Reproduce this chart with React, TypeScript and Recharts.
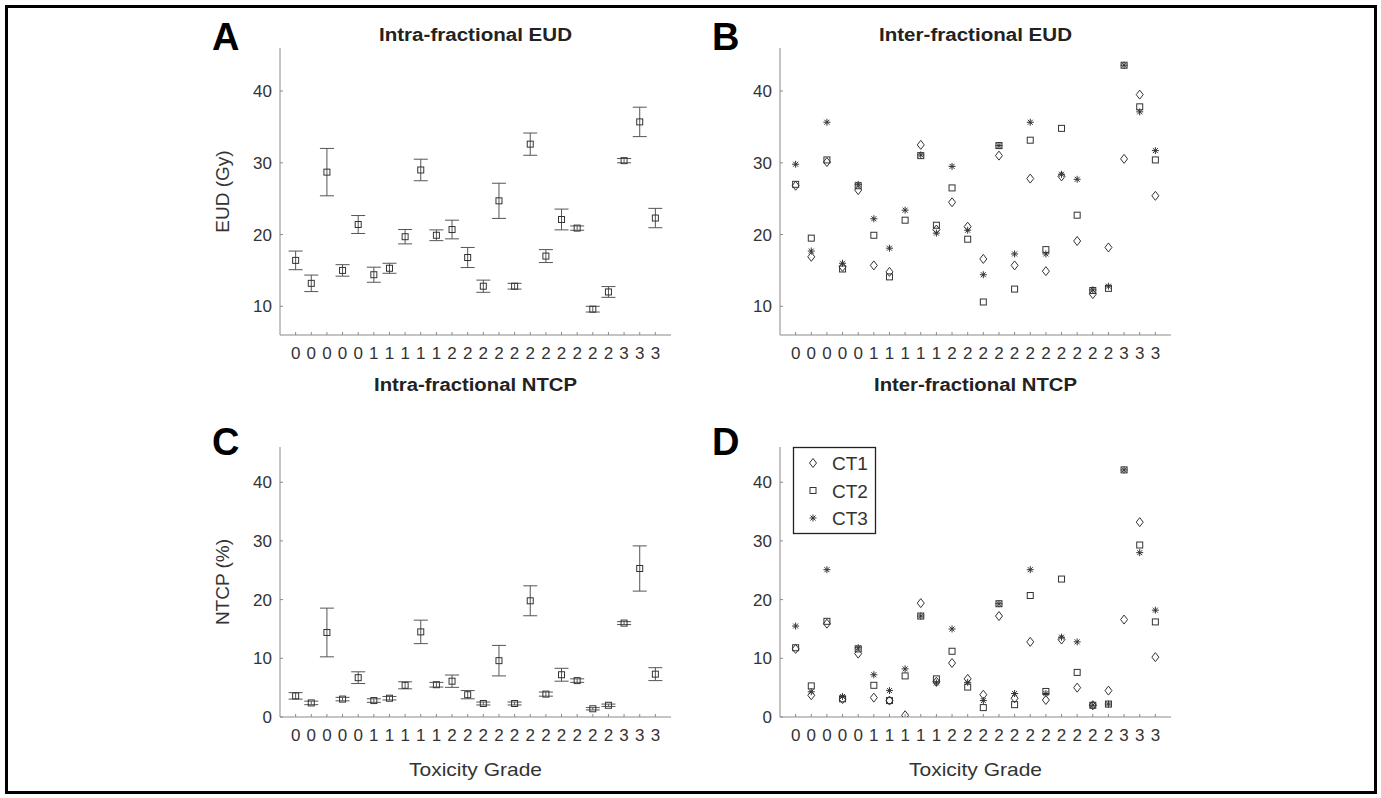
import { ScatterChart, Scatter, XAxis, YAxis, ErrorBar } from 'recharts'
import type { ReactNode } from 'react'

// toxicity grade of each of the 24 patients (x tick labels)
const GRADES = ['0', '0', '0', '0', '0', '1', '1', '1', '1', '1', '2', '2', '2', '2', '2', '2', '2', '2', '2', '2', '2', '3', '3', '3']
const PATIENTS = GRADES.map((_, i) => i + 1)

// A: intra-fractional EUD (Gy), mean and error
const INTRA_EUD_MEAN = [16.4, 13.2, 28.7, 15.0, 21.4, 14.4, 15.3, 19.7, 29.0, 19.9, 20.7, 16.8, 12.8, 24.7, 12.8, 32.6, 17.0, 22.1, 20.9, 9.6, 12.0, 30.3, 35.7, 22.3]
const INTRA_EUD_ERR = [1.3, 1.15, 3.3, 0.8, 1.25, 1.05, 0.7, 1.0, 1.5, 0.75, 1.3, 1.4, 0.85, 2.45, 0.4, 1.55, 0.9, 1.45, 0.3, 0.4, 0.75, 0.3, 2.05, 1.35]

// B: inter-fractional EUD (Gy) per CT
const INTER_EUD_CT1 = [26.8, 16.9, 30.1, 15.5, 26.2, 15.7, 14.8, null, 32.5, 20.7, 24.5, 21.1, 16.6, 31.0, 15.7, 27.8, 14.9, 28.1, 19.1, 11.7, 18.2, 30.55, 39.5, 25.4]
const INTER_EUD_CT2 = [27.0, 19.5, 30.4, 15.2, 26.8, 19.9, 14.1, 22.0, 31.0, 21.3, 26.5, 19.35, 10.6, 32.4, 12.4, 33.15, 17.9, 34.8, 22.7, 12.2, 12.5, 43.6, 37.8, 30.4]
const INTER_EUD_CT3 = [29.8, 17.7, 35.65, 16.0, 27.0, 22.2, 18.1, 23.4, 31.1, 20.2, 29.5, 20.6, 14.4, 32.4, 17.3, 35.65, 17.3, 28.4, 27.7, 12.3, 12.8, 43.6, 37.1, 31.7]

// C: intra-fractional NTCP (%), mean and error
const INTRA_NTCP_MEAN = [3.6, 2.4, 14.4, 3.05, 6.7, 2.8, 3.2, 5.4, 14.5, 5.5, 6.1, 3.8, 2.3, 9.6, 2.3, 19.8, 3.9, 7.2, 6.2, 1.4, 2.0, 16.0, 25.3, 7.3]
const INTRA_NTCP_ERR = [0.55, 0.3, 4.15, 0.3, 1.0, 0.3, 0.3, 0.6, 2.0, 0.4, 1.05, 0.7, 0.25, 2.6, 0.25, 2.55, 0.35, 1.1, 0.3, 0.2, 0.2, 0.25, 3.85, 1.1]

// D: inter-fractional NTCP (%) per CT
const INTER_NTCP_CT1 = [11.6, 3.7, 15.9, 3.05, 10.8, 3.3, 2.8, 0.3, 19.4, 6.0, 9.2, 6.5, 3.8, 17.2, 3.2, 12.8, 2.9, 13.2, 5.0, 2.0, 4.5, 16.6, 33.2, 10.2]
const INTER_NTCP_CT2 = [11.8, 5.3, 16.3, 3.1, 11.6, 5.4, 2.8, 7.0, 17.2, 6.5, 11.2, 5.1, 1.6, 19.3, 2.1, 20.7, 4.35, 23.5, 7.6, 2.0, 2.2, 42.1, 29.3, 16.2]
const INTER_NTCP_CT3 = [15.5, 4.3, 25.1, 3.5, 11.8, 7.2, 4.5, 8.2, 17.2, 5.8, 15.0, 5.9, 2.8, 19.3, 4.0, 25.1, 4.0, 13.6, 12.8, 2.0, 2.2, 42.1, 28.0, 18.2]

const EUD_TICKS = [10, 20, 30, 40]
const NTCP_TICKS = [0, 10, 20, 30, 40]

const FONT = '"Liberation Sans", Arial, Helvetica, sans-serif'
const INK = '#333'
const AXIS = '#8a8a8a'

const withErr = (mean: number[], err: number[]) =>
  mean.map((y, i) => ({ x: PATIENTS[i], y, err: err[i] }))

const points = (vals: (number | null)[]) =>
  vals.flatMap((y, i) => (y === null ? [] : [{ x: PATIENTS[i], y }]))

// eslint-disable-next-line @typescript-eslint/no-explicit-any
const Square = ({ cx = 0, cy = 0 }: any) => (
  <rect x={cx - 3} y={cy - 3} width={6} height={6} fill="none" stroke={INK} strokeWidth={1} />
)

// eslint-disable-next-line @typescript-eslint/no-explicit-any
const Diamond = ({ cx = 0, cy = 0 }: any) => (
  <polygon
    points={`${cx},${cy - 4.5} ${cx + 3.5},${cy} ${cx},${cy + 4.5} ${cx - 3.5},${cy}`}
    fill="none"
    stroke={INK}
    strokeWidth={1}
  />
)

// eslint-disable-next-line @typescript-eslint/no-explicit-any
const Star = ({ cx = 0, cy = 0 }: any) => {
  const r = 3.5
  const d = 2.5
  return (
    <path
      d={`M${cx - r},${cy}H${cx + r}M${cx},${cy - r}V${cy + r}M${cx - d},${cy - d}L${cx + d},${cy + d}M${cx - d},${cy + d}L${cx + d},${cy - d}`}
      stroke={INK}
      strokeWidth={1}
      fill="none"
    />
  )
}

interface Box { x0: number; x1: number; y0: number; y1: number }

const LEFT = { x0: 280, x1: 671 }
const RIGHT = { x0: 780, x1: 1171 }
const TOP = { y0: 48, y1: 335 }
const BOTTOM = { y0: 447, y1: 717 }

const PAD = { top: 20, right: 20, left: 80, bottom: 60 }
const Y_AXIS_W = 60
const X_AXIS_H = 30

function Panel({ box, yDomain, yTicks, children }: { box: Box; yDomain: number[]; yTicks: number[]; children: ReactNode }) {
  const width = box.x1 - box.x0 + PAD.left + PAD.right
  const height = box.y1 - box.y0 + PAD.top + PAD.bottom
  const tickStyle = { fill: INK, fontSize: 17, fontFamily: FONT }
  return (
    <div style={{ position: 'absolute', left: box.x0 - PAD.left, top: box.y0 - PAD.top }}>
      <ScatterChart
        width={width}
        height={height}
        margin={{ top: PAD.top, right: PAD.right, left: PAD.left - Y_AXIS_W, bottom: PAD.bottom - X_AXIS_H }}
      >
        <XAxis
          type="number"
          dataKey="x"
          domain={[0, 25]}
          ticks={PATIENTS}
          interval={0}
          tickFormatter={(v: number) => GRADES[v - 1]}
          height={X_AXIS_H}
          tickSize={-3}
          tickMargin={15}
          stroke={AXIS}
          tick={tickStyle}
          allowDataOverflow
        />
        <YAxis
          type="number"
          dataKey="y"
          domain={yDomain}
          ticks={yTicks}
          interval={0}
          width={Y_AXIS_W}
          tickSize={-3}
          tickMargin={11}
          stroke={AXIS}
          tick={tickStyle}
          allowDataOverflow
        />
        {children}
      </ScatterChart>
    </div>
  )
}

const cap = (text: string, x: number, y: number, size = 38) => (
  <text x={x} y={y} fontSize={size} fontWeight="bold" fill="#000" fontFamily={FONT}>{text}</text>
)

const title = (text: string, x: number, y: number, len: number) => (
  <text x={x} y={y} fontSize={18} fontWeight="bold" fill="#222" fontFamily={FONT} textAnchor="middle" textLength={len} lengthAdjust="spacingAndGlyphs">
    {text}
  </text>
)

const yLabel = (text: string, cy: number) => (
  <text x={0} y={0} transform={`translate(222 ${cy}) rotate(-90)`} fontSize={19} fill={INK} fontFamily={FONT} textAnchor="middle" dominantBaseline="central">
    {text}
  </text>
)

const xLabel = (cx: number) => (
  <text x={cx} y={776} fontSize={19} fill={INK} fontFamily={FONT} textAnchor="middle" textLength={133} lengthAdjust="spacingAndGlyphs">
    Toxicity Grade
  </text>
)

const LEGEND = [
  { name: 'CT1', Mark: Diamond },
  { name: 'CT2', Mark: Square },
  { name: 'CT3', Mark: Star },
]

export default function App() {
  const midL = (LEFT.x0 + LEFT.x1) / 2
  const midR = (RIGHT.x0 + RIGHT.x1) / 2
  return (
    <div style={{ position: 'absolute', left: 0, top: 0, width: 1381, height: 798, background: '#fff', fontFamily: FONT }}>
      <div style={{ position: 'absolute', left: 5, top: 5, width: 1372, height: 789, border: '3px solid #000', boxSizing: 'border-box' }} />

      <Panel box={{ ...LEFT, ...TOP }} yDomain={[6, 46]} yTicks={EUD_TICKS}>
        <Scatter data={withErr(INTRA_EUD_MEAN, INTRA_EUD_ERR)} shape={Square} isAnimationActive={false}>
          <ErrorBar dataKey="err" direction="y" width={7} stroke="#555" strokeWidth={1} isAnimationActive={false} />
        </Scatter>
      </Panel>

      <Panel box={{ ...RIGHT, ...TOP }} yDomain={[6, 46]} yTicks={EUD_TICKS}>
        <Scatter name="CT1" data={points(INTER_EUD_CT1)} shape={Diamond} isAnimationActive={false} />
        <Scatter name="CT2" data={points(INTER_EUD_CT2)} shape={Square} isAnimationActive={false} />
        <Scatter name="CT3" data={points(INTER_EUD_CT3)} shape={Star} isAnimationActive={false} />
      </Panel>

      <Panel box={{ ...LEFT, ...BOTTOM }} yDomain={[0, 46]} yTicks={NTCP_TICKS}>
        <Scatter data={withErr(INTRA_NTCP_MEAN, INTRA_NTCP_ERR)} shape={Square} isAnimationActive={false}>
          <ErrorBar dataKey="err" direction="y" width={7} stroke="#555" strokeWidth={1} isAnimationActive={false} />
        </Scatter>
      </Panel>

      <Panel box={{ ...RIGHT, ...BOTTOM }} yDomain={[0, 46]} yTicks={NTCP_TICKS}>
        <Scatter name="CT1" data={points(INTER_NTCP_CT1)} shape={Diamond} isAnimationActive={false} />
        <Scatter name="CT2" data={points(INTER_NTCP_CT2)} shape={Square} isAnimationActive={false} />
        <Scatter name="CT3" data={points(INTER_NTCP_CT3)} shape={Star} isAnimationActive={false} />
      </Panel>

      {/* titles, panel letters, axis labels, legend */}
      <svg width={1381} height={798} style={{ position: 'absolute', left: 0, top: 0, pointerEvents: 'none' }}>
        {cap('A', 212, 50)}
        {cap('B', 712, 50)}
        {cap('C', 212, 455)}
        {cap('D', 712, 455)}
        {title('Intra-fractional EUD', midL, 40.5, 193)}
        {title('Inter-fractional EUD', midR, 40.5, 193)}
        {title('Intra-fractional NTCP', midL, 390.5, 203)}
        {title('Inter-fractional NTCP', midR, 390.5, 203)}
        {yLabel('EUD (Gy)', (TOP.y0 + TOP.y1) / 2)}
        {yLabel('NTCP (%)', (BOTTOM.y0 + BOTTOM.y1) / 2)}
        {xLabel(midL)}
        {xLabel(midR)}

        <rect x={793.5} y={447.5} width={82} height={86} fill="#fff" stroke="#222" strokeWidth={1.3} />
        {LEGEND.map(({ name, Mark }, i) => {
          const cy = 463 + i * 27.5
          return (
            <g key={name}>
              <Mark cx={813} cy={cy} />
              <text x={832} y={cy + 7} fontSize={19} fill={INK} fontFamily={FONT}>{name}</text>
            </g>
          )
        })}
      </svg>
    </div>
  )
}
